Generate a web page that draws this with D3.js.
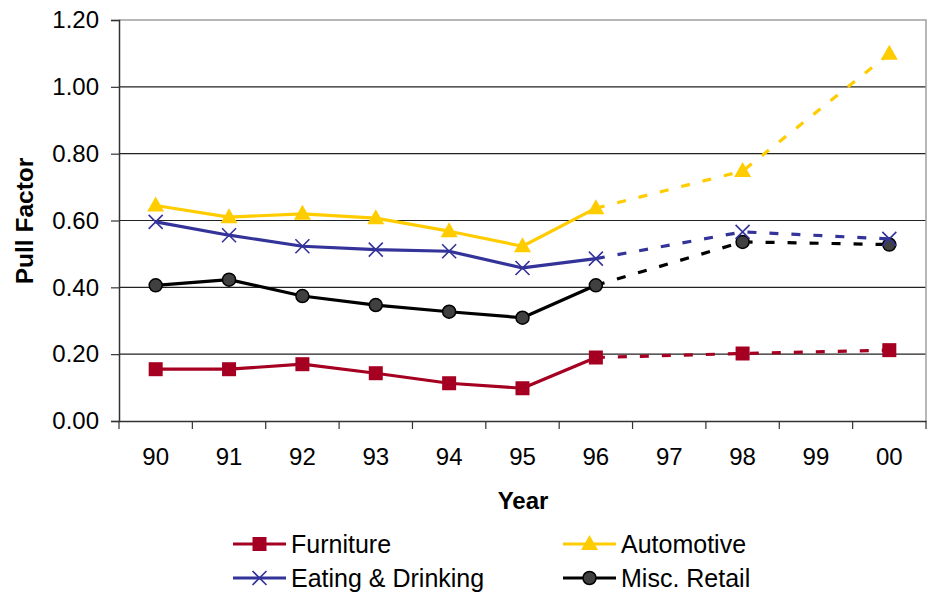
<!DOCTYPE html>
<html>
<head>
<meta charset="utf-8">
<script src="https://cdn.jsdelivr.net/npm/d3@7"></script>
<style>
  body { margin: 0; background: #fff; }
  svg text { font-family: "Liberation Sans", Arial, sans-serif; fill: #000; }
</style>
</head>
<body>
<svg id="chart" width="930" height="593"></svg>
<script>
// categories on the x axis
let years = ["90", "91", "92", "93", "94", "95", "96", "97", "98", "99", "00"];
let yTicks = [0, 0.2, 0.4, 0.6, 0.8, 1.0, 1.2];

// pull factor per year (null = no value)
let furniture = [0.155, 0.155, 0.170, 0.143, 0.113, 0.098, 0.190, null, 0.202, null, 0.212];
let automotive = [0.645, 0.610, 0.620, 0.607, 0.568, 0.523, 0.637, null, 0.748, null, 1.099];
let eating = [0.596, 0.556, 0.523, 0.513, 0.508, 0.458, 0.486, null, 0.566, null, 0.545];
let misc = [0.406, 0.423, 0.374, 0.347, 0.327, 0.309, 0.406, null, 0.536, null, 0.528];

let series = [
  { name: "Furniture", values: furniture, color: "#A50021", marker: "square" },
  { name: "Automotive", values: automotive, color: "#FFCC00", marker: "triangle" },
  { name: "Eating & Drinking", values: eating, color: "#333399", marker: "cross" },
  { name: "Misc. Retail", values: misc, color: "#000000", marker: "circle" }
];
// draw order in plot (bottom to top)
let drawOrder = [series[0], series[3], series[2], series[1]];

let svg = d3.select("svg#chart");
let plotL = 119, plotR = 926, plotT = 20, plotB = 421;

let x = d3.scaleBand().domain(years).range([plotL, plotR]);
let y = d3.scaleLinear().domain([0, 1.2]).range([plotB, plotT]);
let cx = d => x(d) + x.bandwidth() / 2;

// gridlines
svg.append("g")
  .selectAll("line")
  .data(yTicks.filter(d => d > 0 && d < 1.2))
  .enter().append("line")
  .attr("x1", plotL).attr("x2", plotR)
  .attr("y1", d => y(d)).attr("y2", d => y(d))
  .attr("stroke", "#222").attr("stroke-width", 1.2);

// plot border top/right
svg.append("path")
  .attr("d", `M${plotL},${y(1.2)}H${plotR}V${plotB}`)
  .attr("fill", "none").attr("stroke", "#a0a0a0").attr("stroke-width", 1.5);

// y axis
let gy = svg.append("g")
  .attr("transform", `translate(${plotL},0)`)
  .call(d3.axisLeft(y).tickValues(yTicks).tickFormat(d3.format(".2f")).tickSize(8).tickPadding(12));
gy.select(".domain").attr("stroke", "#333").attr("stroke-width", 1.5);
gy.selectAll(".tick line").attr("stroke", "#333").attr("stroke-width", 1.2);
gy.selectAll(".tick text").attr("font-size", 24).attr("font-family", "Liberation Sans, Arial, sans-serif");

// x axis: ticks on band boundaries
let gx = svg.append("g")
  .attr("transform", `translate(0,${plotB})`)
  .call(d3.axisBottom(x).tickSize(0).tickPadding(27));
gx.select(".domain").attr("stroke", "#333").attr("stroke-width", 1.5);
gx.selectAll(".tick text").attr("font-size", 24).attr("font-family", "Liberation Sans, Arial, sans-serif");
gx.selectAll("line.bound")
  .data(years.map(d => x(d)).concat([plotR]))
  .enter().append("line")
  .attr("class", "bound")
  .attr("x1", d => d).attr("x2", d => d)
  .attr("y1", 0).attr("y2", 8)
  .attr("stroke", "#333").attr("stroke-width", 1.2);

// axis titles
svg.append("text")
  .attr("x", 523).attr("y", 509)
  .attr("text-anchor", "middle")
  .attr("font-size", 24).attr("font-weight", "bold")
  .text("Year");

svg.append("text")
  .attr("transform", "translate(33,221) rotate(-90)")
  .attr("text-anchor", "middle")
  .attr("font-size", 24.5).attr("font-weight", "bold")
  .text("Pull Factor");

// markers
function drawMarker(g, type, color, px, py) {
  if (type === "square") {
    g.append("rect")
      .attr("x", px - 7).attr("y", py - 7).attr("width", 14).attr("height", 14)
      .attr("fill", color);
  } else if (type === "triangle") {
    g.append("path")
      .attr("d", `M${px},${py - 9}L${px + 8.5},${py + 6}L${px - 8.5},${py + 6}Z`)
      .attr("fill", color);
  } else if (type === "cross") {
    g.append("path")
      .attr("d", `M${px - 7},${py - 7}L${px + 7},${py + 7}M${px + 7},${py - 7}L${px - 7},${py + 7}`)
      .attr("stroke", color).attr("stroke-width", 1.6).attr("fill", "none");
  } else {
    g.append("circle")
      .attr("cx", px).attr("cy", py).attr("r", 6.5)
      .attr("fill", "#404040").attr("stroke", "#000").attr("stroke-width", 1.5);
  }
}

let line = d3.line()
  .x(d => cx(d.year))
  .y(d => y(d.value));

drawOrder.forEach(s => {
  let pts = years.map((yr, i) => ({ year: yr, value: s.values[i] })).filter(d => d.value != null);
  let solid = pts.filter(d => years.indexOf(d.year) <= 6);
  let dashed = pts.filter(d => years.indexOf(d.year) >= 6);
  let g = svg.append("g");
  g.append("path")
    .attr("d", line(solid))
    .attr("fill", "none").attr("stroke", s.color).attr("stroke-width", 3.2)
    .attr("stroke-linejoin", "round");
  g.append("path")
    .attr("d", line(dashed))
    .attr("fill", "none").attr("stroke", s.color).attr("stroke-width", 3.2)
    .attr("stroke-dasharray", "9,13");
  pts.forEach(d => drawMarker(g, s.marker, s.color, cx(d.year), y(d.value)));
});

// legend
let legendPos = [[233, 544], [563, 544], [233, 578], [563, 578]];
series.forEach((s, i) => {
  let [lx, ly] = legendPos[i];
  let g = svg.append("g");
  g.append("line")
    .attr("x1", lx).attr("x2", lx + 53)
    .attr("y1", ly).attr("y2", ly)
    .attr("stroke", s.color).attr("stroke-width", 3.2);
  drawMarker(g, s.marker, s.color, lx + 26.5, ly);
  g.append("text")
    .attr("x", lx + 58).attr("y", ly + 8.8)
    .attr("font-size", 25)
    .text(s.name);
});
</script>
</body>
</html>
